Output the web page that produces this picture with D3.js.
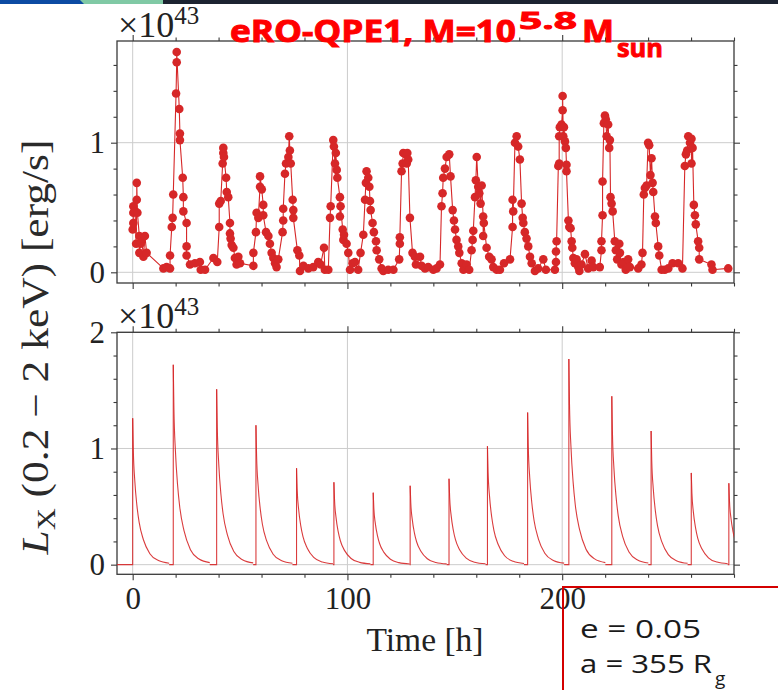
<!DOCTYPE html>
<html>
<head>
<meta charset="utf-8">
<title>eRO-QPE1 light curve</title>
<script src="https://cdn.jsdelivr.net/npm/d3@7"></script>
<style>
  body { margin: 0; background: #fff; }
</style>
</head>
<body>
<div id="chart"></div>
<script>
// observed points (top panel), time in h, L in 1e43 erg/s
const obsTime = [
  0.0, 0.3, 0.3, 0.3, 1.1, 1.9, 1.9, 2.2, 1.6, 3.1, 3.7, 4.2, 3.1, 5.0, 5.7, 6.5,
  14.3, 15.8, 17.4, 17.4, 18.2, 18.6, 18.9, 20.2, 20.5, 20.5, 21.7, 22.0, 22.0, 23.3, 23.6, 23.6,
  25.1, 25.1, 25.1, 26.7, 29.0, 31.3, 31.7, 33.7, 37.6, 39.4, 40.3, 40.3, 41.0, 41.9, 42.2, 42.2,
  42.5, 43.5, 43.8, 44.5, 45.3, 45.3, 45.6, 46.1, 46.9, 47.6, 48.4, 49.2, 50.0, 56.2, 56.2, 57.4,
  57.7, 58.5, 59.3, 59.3, 60.1, 60.8, 60.8, 62.1, 63.2, 63.9, 64.7, 65.5, 66.3, 67.0, 67.8, 69.8,
  70.1, 70.1, 70.9, 71.4, 72.5, 72.9, 73.2, 73.6, 74.5, 74.8, 74.8, 76.7, 77.6, 77.9, 79.5, 81.8,
  84.1, 86.4, 87.5, 89.1, 89.5, 91.1, 91.9, 92.2,
  93.4, 93.7, 94.2, 94.6, 95.0, 95.3, 96.5, 96.5, 96.8, 97.8, 98.1, 98.4, 99.6, 100.4, 101.2, 102.4,
  103.5, 105.0, 106.1, 107.4, 108.2, 108.6, 108.9, 109.7, 110.2, 110.5, 110.8, 111.7, 112.3, 113.3, 113.6, 114.8,
  115.9, 116.7, 119.0, 121.4, 124.1, 124.4, 124.4, 125.2, 125.7, 126.0, 127.3, 127.6, 127.9, 128.3, 129.1, 130.3,
  131.4, 131.9, 133.8, 134.5, 136.1, 137.6, 140.0, 141.5, 143.1, 143.8, 144.3, 144.6, 145.4, 146.2, 147.4, 148.0,
  149.0, 149.6, 150.1, 150.8, 151.6, 152.1, 153.2, 154.0, 155.5, 156.7, 157.8, 158.3, 158.6, 159.4, 159.8, 160.2,
  160.9, 161.4, 162.0, 162.5, 163.2, 163.2, 163.5, 164.8, 166.0, 167.1, 167.9, 169.5, 171.0, 172.9, 175.7, 176.9,
  176.9, 177.2, 178.0, 178.8, 179.5, 180.3, 181.1, 181.6, 181.9, 182.6, 183.4, 184.2, 185.0, 185.8, 187.3, 188.8,
  191.2, 192.4,
  196.6, 197.1, 197.1, 197.4, 198.2, 198.6, 198.6, 198.9, 199.7, 200.2, 200.2, 200.5, 200.8, 201.3, 201.7, 202.0,
  202.0, 202.9, 203.3, 203.9, 204.4, 204.7, 205.2, 205.9, 206.7, 207.5, 208.0, 209.0, 210.6, 212.1, 213.7, 214.5,
  217.5, 218.3, 218.3, 218.8, 218.8, 219.4, 219.9, 220.3, 220.7, 221.4, 221.9, 222.2, 222.5, 223.0, 223.5, 224.5,
  225.0, 225.6, 226.6, 226.9, 227.6, 228.7, 229.6, 230.7, 231.5, 235.4, 236.9, 237.4, 238.0, 238.5, 239.3, 240.0,
  240.5, 241.1, 241.6, 242.1, 242.4, 243.2, 243.6, 244.7, 245.2, 246.3, 247.8, 249.4, 251.4, 254.0, 256.0, 257.1,
  257.6, 258.2, 258.7, 259.5, 260.2, 260.2, 260.7, 261.3, 261.8, 262.2, 263.3, 263.8, 263.8, 269.5, 270.0, 277.3
];
const obsLum = [
  0.33, 0.38, 0.46, 0.51, 0.47, 0.56, 0.69, 0.46, 0.22, 0.28, 0.22, 0.26, 0.15, 0.12, 0.28, 0.15,
  0.03, 0.04, 0.03, 0.13, 0.35, 0.42, 0.60, 1.38, 1.62, 1.70, 1.26, 1.07, 1.02, 0.73, 0.58, 0.47,
  0.38, 0.20, 0.13, 0.06, 0.07, 0.08, 0.02, 0.02, 0.11, 0.08, 0.35, 0.53, 0.55, 0.84, 0.92, 0.96,
  0.89, 0.73, 0.62, 0.58, 0.38, 0.30, 0.26, 0.21, 0.19, 0.11, 0.06, 0.12, 0.07, 0.05, 0.15, 0.31,
  0.46, 0.42, 0.66, 0.74, 0.64, 0.52, 0.44, 0.31, 0.28, 0.22, 0.15, 0.11, 0.07, 0.04, 0.10, 0.31,
  0.40, 0.49, 0.76, 0.84, 0.89, 1.05, 0.94, 0.84, 0.56, 0.48, 0.42, 0.17, 0.13, 0.01, 0.05, 0.03,
  0.04, 0.08, 0.06, 0.19, 0.02, 0.02, 0.42, 0.51,
  1.02, 0.97, 0.84, 0.92, 0.79, 0.73, 0.58, 0.43, 0.51, 0.33, 0.25, 0.29, 0.22, 0.15, 0.02, 0.07,
  0.08, 0.02, 0.15, 0.29, 0.56, 0.69, 0.78, 0.73, 0.66, 0.55, 0.48, 0.38, 0.31, 0.24, 0.17, 0.10,
  0.03, 0.01, 0.02, 0.02, 0.10, 0.22, 0.27, 0.78, 0.84, 0.92, 0.91, 0.84, 0.92, 0.87, 0.42, 0.15,
  0.12, 0.06, 0.12, 0.05, 0.03, 0.04, 0.02, 0.03, 0.06, 0.51, 0.61, 0.73, 0.80, 0.89, 0.91, 0.74,
  0.48, 0.40, 0.33, 0.25, 0.20, 0.15, 0.07, 0.02, 0.06, 0.02, 0.17, 0.25, 0.32, 0.58, 0.71, 0.89,
  0.66, 0.61, 0.53, 0.67, 0.43, 0.28, 0.38, 0.19, 0.12, 0.10, 0.04, 0.02, 0.02, 0.07, 0.10, 0.35,
  0.56, 0.47, 1.00, 1.05, 0.97, 0.87, 0.53, 0.42, 0.38, 0.31, 0.26, 0.20, 0.12, 0.07, 0.01, 0.03,
  0.10, 0.02,
  0.02, 0.08, 0.16, 0.24, 0.82, 0.84, 1.05, 1.12, 1.14, 1.25, 1.36, 1.05, 1.12, 1.01, 0.96, 0.83,
  0.78, 0.40, 0.35, 0.34, 0.24, 0.19, 0.11, 0.07, 0.10, 0.04, 0.01, 0.06, 0.14, 0.03, 0.09, 0.04,
  0.04, 0.17, 0.24, 0.44, 0.70, 1.15, 1.21, 1.18, 1.05, 1.14, 0.96, 1.02, 0.58, 0.53, 0.47, 0.24,
  0.17, 0.10, 0.22, 0.15, 0.06, 0.08, 0.02, 0.10, 0.04, 0.03, 0.06, 0.15, 0.60, 0.65, 0.67, 1.00,
  0.98, 0.75, 0.88, 0.69, 0.62, 0.43, 0.38, 0.20, 0.13, 0.02, 0.02, 0.03, 0.07, 0.07, 0.03, 0.82,
  0.91, 0.94, 1.05, 1.00, 1.03, 0.84, 0.96, 0.52, 0.44, 0.37, 0.24, 0.19, 0.10, 0.06, 0.02, 0.03
];

// model flares (bottom panel)
const flareTime = [0, 18.9, 39.1, 57.4, 76.3, 93.7, 112.0, 129.2, 147.3, 165.2, 183.9, 203.1, 223.1, 241.4, 260.1, 277.6];
const flarePeak = [1.26, 1.72, 1.51, 1.20, 0.83, 0.71, 0.62, 0.68, 0.74, 1.02, 1.31, 1.77, 1.45, 1.15, 0.79, 0.70];
// decay profile: hours after peak, share of peak
const decayHours = [0, 0.3, 1, 2, 3, 5, 8, 12, 17];
const decayShare = [1, 0.78, 0.57, 0.4, 0.29, 0.17, 0.075, 0.028, 0.01];

// ticks
const xMajor = [0, 100, 200];
const xMinor = [20, 40, 60, 80, 120, 140, 160, 180, 220, 240, 260, 280];
const topMajor = [0, 1];
const topMinor = [0.2, 0.4, 0.6, 0.8, 1.2, 1.4, 1.6];
const botMajor = [0, 1, 2];
const botMinor = [0.2, 0.4, 0.6, 0.8, 1.2, 1.4, 1.6, 1.8];

const width = 778, height = 690;
const red = "#d62728", ink = "#3a3a3a";
const serif = "'Liberation Serif', 'DejaVu Serif', serif";
const sans = "'Open Sans', 'Noto Sans', sans-serif";

const svg = d3.select("#chart").append("svg")
    .attr("width", width)
    .attr("height", height);

// slide banner strip at the very top
svg.append("rect").attr("x", 0).attr("y", 0).attr("width", width).attr("height", 4).attr("fill", "#1c2331");
svg.append("rect").attr("x", 80).attr("y", 0).attr("width", 83).attr("height", 4).attr("fill", "#80c9a5");
svg.append("polygon").attr("points", "0,0 80,0 84,4 0,4").attr("fill", "#0c4ba3");

const x = d3.scaleLinear().domain([-7.3, 280]).range([117, 734]);
const yTop = d3.scaleLinear().domain([-0.0825, 1.7846]).range([283, 41]);
const yBot = d3.scaleLinear().domain([-0.083, 2.0]).range([574.3, 332.3]);

function panel(y, major, minor, xLabels, id) {
  const [x0, x1] = x.range();
  const [yb, yt] = y.range();
  const g = svg.append("g");

  svg.append("clipPath").attr("id", id)
    .append("rect").attr("x", x0).attr("y", yt).attr("width", x1 - x0).attr("height", yb - yt);

  // grid
  g.selectAll("line.gx").data(xMajor).join("line")
      .attr("x1", d => x(d)).attr("x2", d => x(d)).attr("y1", yt).attr("y2", yb)
      .attr("stroke", "#cccccc").attr("stroke-width", 1);
  g.selectAll("line.gy").data(major).join("line").attr("class", "gy")
      .attr("x1", x0).attr("x2", x1).attr("y1", d => y(d)).attr("y2", d => y(d))
      .attr("stroke", "#cccccc").attr("stroke-width", 1);

  const ax = (axis, tr) => {
    const a = g.append("g").attr("transform", tr).call(axis);
    a.select(".domain").remove();
    a.selectAll("line").attr("stroke", ink).attr("stroke-width", 1.1);
    return a;
  };
  const fmtNone = () => "";
  const bottom = ax(d3.axisBottom(x).tickValues(xMajor).tickSize(6).tickPadding(7)
      .tickFormat(xLabels ? d3.format("d") : fmtNone), `translate(0,${yb})`);
  ax(d3.axisBottom(x).tickValues(xMinor).tickSize(3.5).tickFormat(fmtNone), `translate(0,${yb})`);
  ax(d3.axisTop(x).tickValues(xMajor).tickSize(6).tickFormat(fmtNone), `translate(0,${yt})`);
  ax(d3.axisTop(x).tickValues(xMinor).tickSize(3.5).tickFormat(fmtNone), `translate(0,${yt})`);
  const left = ax(d3.axisLeft(y).tickValues(major).tickSize(6).tickPadding(6).tickFormat(d3.format("d")), `translate(${x0},0)`);
  ax(d3.axisLeft(y).tickValues(minor).tickSize(3.5).tickFormat(fmtNone), `translate(${x0},0)`);
  ax(d3.axisRight(y).tickValues(major).tickSize(6).tickFormat(fmtNone), `translate(${x1},0)`);
  ax(d3.axisRight(y).tickValues(minor).tickSize(3.5).tickFormat(fmtNone), `translate(${x1},0)`);

  [bottom, left].forEach(a => a.selectAll("text")
      .attr("font-family", serif).attr("font-size", 31).attr("fill", "#222"));

  g.append("rect")
      .attr("x", x0).attr("y", yt).attr("width", x1 - x0).attr("height", yb - yt)
      .attr("fill", "none").attr("stroke", ink).attr("stroke-width", 1.3);

  // x10^43 multiplier
  const m = g.append("text")
      .attr("x", x0 + 1).attr("y", yt - 4)
      .attr("font-family", serif).attr("font-size", 36).attr("fill", "#222");
  m.append("tspan").text("×10");
  m.append("tspan").attr("dy", -13).attr("font-size", 25).text("43");
  return g;
}

const gTop = panel(yTop, topMajor, topMinor, false, "clipTop");
const gBot = panel(yBot, botMajor, botMinor, true, "clipBot");

// observed light curve
const obs = obsTime.map((t, i) => ({t, L: obsLum[i]})).sort((a, b) => a.t - b.t);
gTop.append("path")
    .datum(obs)
    .attr("fill", "none")
    .attr("stroke", red)
    .attr("stroke-width", 1.1)
    .attr("d", d3.line().x(d => x(d.t)).y(d => yTop(d.L)));
gTop.selectAll("circle").data(obs).join("circle")
    .attr("cx", d => x(d.t)).attr("cy", d => yTop(d.L)).attr("r", 4.3)
    .attr("fill", red);

// model light curve
const model = gBot.append("g").attr("clip-path", "url(#clipBot)")
    .attr("fill", "none").attr("stroke", red).attr("stroke-width", 1.1).attr("stroke-opacity", 0.9);
const decay = d3.line().curve(d3.curveMonotoneX).x(d => x(d.t)).y(d => yBot(d.L));
flareTime.forEach((tp, i) => {
  const prev = i === 0 ? x.domain()[0] : flareTime[i - 1] + decayHours[decayHours.length - 1];
  model.append("path")
      .attr("d", d3.line()([[x(prev), yBot(0)], [x(tp), yBot(0)], [x(tp), yBot(flarePeak[i])]]));
  model.append("path")
      .datum(decayHours.map((h, k) => ({t: tp + h, L: flarePeak[i] * decayShare[k]})))
      .attr("d", decay);
});

// axis labels
svg.append("text")
    .attr("x", 425).attr("y", 651)
    .attr("text-anchor", "middle")
    .attr("font-family", serif).attr("font-size", 33).attr("fill", "#222")
    .attr("textLength", 117).attr("lengthAdjust", "spacingAndGlyphs")
    .text("Time [h]");

const yl = svg.append("text")
    .attr("transform", "translate(48,347) rotate(-90)")
    .attr("text-anchor", "middle")
    .attr("font-family", serif).attr("font-size", 37).attr("fill", "#2a2a2a")
    .attr("textLength", 415).attr("lengthAdjust", "spacingAndGlyphs");
yl.append("tspan").attr("font-style", "italic").text("L");
yl.append("tspan").attr("font-size", 26).attr("dy", 7).text("X");
yl.append("tspan").attr("dy", -7).text(" (0.2 − 2 keV) [erg/s]");

// title
const title = svg.append("g").attr("fill", "#ff0000").attr("stroke", "#ff0000").attr("stroke-width", 0.9)
    .attr("font-family", sans).attr("font-weight", 700);
title.append("text").attr("x", 230).attr("y", 42).attr("font-size", 30)
    .attr("textLength", 286).attr("lengthAdjust", "spacingAndGlyphs").text("eRO-QPE1, M=10");
title.append("text").attr("x", 519).attr("y", 29).attr("font-size", 23)
    .attr("textLength", 58).attr("lengthAdjust", "spacingAndGlyphs").text("5.8");
title.append("text").attr("x", 582).attr("y", 42).attr("font-size", 30)
    .attr("textLength", 32).attr("lengthAdjust", "spacingAndGlyphs").text("M");
title.append("text").attr("x", 617).attr("y", 57).attr("font-size", 25)
    .attr("textLength", 46).attr("lengthAdjust", "spacingAndGlyphs").text("sun");

// parameter box
svg.append("rect")
    .attr("x", 563).attr("y", 587).attr("width", 240).attr("height", 120)
    .attr("fill", "none").attr("stroke", "#d40000").attr("stroke-width", 2);
const box = svg.append("g").attr("font-family", sans).attr("fill", "#1a1a1a");
box.append("text").attr("x", 580).attr("y", 638).attr("font-size", 26)
    .attr("textLength", 121).attr("lengthAdjust", "spacingAndGlyphs").text("e = 0.05");
box.append("text").attr("x", 580).attr("y", 673).attr("font-size", 26)
    .attr("textLength", 132).attr("lengthAdjust", "spacingAndGlyphs").text("a = 355 R");
box.append("text").attr("x", 715).attr("y", 685).attr("font-size", 19).text("g");
</script>
</body>
</html>
